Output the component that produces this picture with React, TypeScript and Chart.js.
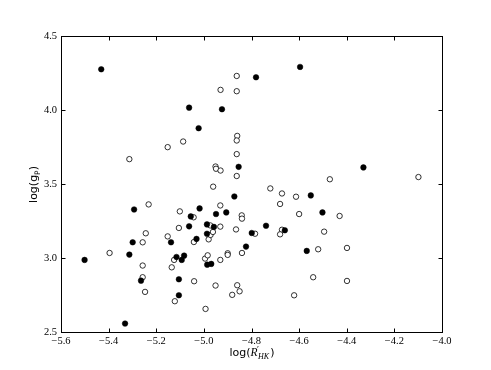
import React, { useEffect, useRef } from "react";
import { Chart, registerables } from "chart.js";

Chart.register(...registerables);

// Filled (black) points
const filledX = [
  -5.431, -5.062, -4.924, -5.022, -4.854, -4.781, -4.596, -4.33, -5.501, -5.331,
  -5.293, -5.299, -5.313, -5.264, -5.138, -5.115, -5.093, -5.083, -5.105, -5.105,
  -5.055, -5.062, -5.031, -5.018, -4.987, -4.987, -4.986, -4.969, -4.958, -4.949,
  -4.906, -4.872, -4.823, -4.799, -4.551, -4.502, -4.739, -4.66, -4.568,
];
const filledY = [
  4.275, 4.016, 4.005, 3.877, 3.616, 4.221, 4.291, 3.612, 2.987, 2.557,
  3.328, 3.106, 3.023, 2.847, 3.106, 3.007, 2.987, 3.016, 2.856, 2.748,
  3.281, 3.214, 3.129, 3.335, 3.227, 3.164, 2.955, 2.96, 3.21, 3.297,
  3.308, 3.416, 3.077, 3.169, 3.423, 3.308, 3.218, 3.187, 3.048,
];

// Open (hollow) points
const openX = [
  -4.862, -4.93, -4.862, -5.087, -5.152, -5.313, -4.86, -4.862, -4.862, -4.951,
  -4.949, -4.93, -4.862, -4.961, -4.471, -4.099, -4.721, -5.396, -5.232, -5.244,
  -5.257, -5.257, -5.257, -5.247, -5.152, -5.105, -5.101, -5.125, -5.135, -5.122,
  -5.043, -5.042, -5.041, -4.995, -4.984, -4.993, -4.98, -4.972, -4.962, -4.973,
  -4.931, -4.931, -4.931, -4.951, -4.9, -4.9, -4.881, -4.86, -4.85, -4.841,
  -4.84, -4.865, -4.84, -4.672, -4.613, -4.68, -4.6, -4.43, -4.785, -4.672,
  -4.68, -4.495, -4.52, -4.399, -4.541, -4.399, -4.621,
];
const openY = [
  4.23, 4.136, 4.127, 3.787, 3.749, 3.668, 3.825, 3.794, 3.702, 3.618,
  3.603, 3.591, 3.554, 3.482, 3.532, 3.547, 3.47, 3.034, 3.362, 3.167,
  3.106, 2.949, 2.87, 2.771, 3.146, 3.203, 3.315, 2.987, 2.937, 2.708,
  3.275, 3.108, 2.843, 2.996, 3.018, 2.656, 3.126, 3.156, 3.176, 3.22,
  3.355, 3.212, 2.987, 2.814, 3.032, 3.021, 2.751, 2.816, 2.775, 3.288,
  3.266, 3.193, 3.034, 3.436, 3.414, 3.365, 3.297, 3.284, 3.164, 3.191,
  3.16, 3.178, 3.059, 3.068, 2.87, 2.845, 2.748,
];

const xMin = -5.6;
const xMax = -4.0;
const xStep = 0.2;
const yMin = 2.5;
const yMax = 4.5;
const yStep = 0.5;

const fmt = (v: number) => v.toFixed(1).replace("-", "\u2212");

const SERIF = "'Liberation Serif', 'DejaVu Serif', serif";

const framePlugin = {
  id: "frameTicks",
  afterDraw(chart: any) {
    const ctx = chart.ctx as CanvasRenderingContext2D;
    const { left, right, top, bottom } = chart.chartArea;
    const L = Math.round(left) + 0.5;
    const R = Math.round(right) + 0.5;
    const T = Math.round(top) + 0.5;
    const B = Math.round(bottom) + 0.5;
    ctx.save();
    ctx.strokeStyle = "#000";
    ctx.lineWidth = 1;
    ctx.strokeRect(L, T, R - L, B - T);
    const tl = 4;
    ctx.beginPath();
    const xs = chart.scales.x;
    xs.ticks.forEach((t: any) => {
      const p = Math.round(xs.getPixelForValue(t.value)) + 0.5;
      ctx.moveTo(p, B);
      ctx.lineTo(p, B - tl);
      ctx.moveTo(p, T);
      ctx.lineTo(p, T + tl);
    });
    const ys = chart.scales.y;
    ys.ticks.forEach((t: any) => {
      const p = Math.round(ys.getPixelForValue(t.value)) + 0.5;
      ctx.moveTo(L, p);
      ctx.lineTo(L + tl, p);
      ctx.moveTo(R, p);
      ctx.lineTo(R - tl, p);
    });
    ctx.stroke();

    // Axis titles
    ctx.fillStyle = "#000";
    ctx.textBaseline = "alphabetic";
    const sans = "11px 'DejaVu Sans', sans-serif";
    const itSerif = "italic 11.5px " + SERIF;
    const subSerif = "italic 8px " + SERIF;
    const cx = (L + R) / 2;
    const base = 356;

    // X title: log(R'_HK)
    ctx.font = sans;
    const wLog = ctx.measureText("log(").width;
    const wClose = ctx.measureText(")").width;
    ctx.font = itSerif;
    const wR = ctx.measureText("R").width;
    ctx.font = subSerif;
    const wHK = ctx.measureText("HK").width;
    const total = wLog + wR + 0.5 + wHK + 1 + wClose;
    let x = cx - total / 2;
    ctx.font = sans;
    ctx.fillText("log(", x, base);
    x += wLog;
    ctx.font = itSerif;
    ctx.fillText("R", x, base);
    x += wR;
    ctx.font = "9px " + SERIF;
    ctx.fillText("\u2032", x - 0.5, base - 4.5);
    ctx.font = subSerif;
    ctx.fillText("HK", x + 0.5, base + 2.5);
    x += 0.5 + wHK + 1;
    ctx.font = sans;
    ctx.fillText(")", x, base);

    // Y title: log(g_P), rotated
    ctx.save();
    ctx.translate(37, (T + B) / 2);
    ctx.rotate(-Math.PI / 2);
    const yparts: Array<[string, string, number]> = [
      ["log(g", sans, 0],
      ["P", "7.5px 'DejaVu Sans', sans-serif", 2.5],
      [")", sans, 0],
    ];
    let yt = 0;
    const yw: number[] = [];
    yparts.forEach(([s, f]) => {
      ctx.font = f;
      const w = ctx.measureText(s).width;
      yw.push(w);
      yt += w;
    });
    let yx = -yt / 2;
    yparts.forEach(([s, f, dy], i) => {
      ctx.font = f;
      ctx.fillText(s, yx, dy);
      yx += yw[i];
    });
    ctx.restore();
    ctx.restore();
  },
};

export default function App() {
  const ref = useRef<HTMLCanvasElement>(null);
  useEffect(() => {
    document.body.style.margin = "0";
    const canvas = ref.current!;
    const chart = new Chart(canvas, {
      type: "scatter",
      data: {
        datasets: [
          {
            label: "filled",
            data: filledX.map((x, i) => ({ x, y: filledY[i] })),
            backgroundColor: "#000",
            borderColor: "#000",
            borderWidth: 0.5,
            pointRadius: 2.8,
            pointHoverRadius: 2.8,
          },
          {
            label: "open",
            data: openX.map((x, i) => ({ x, y: openY[i] })),
            backgroundColor: "#fff",
            borderColor: "#000",
            borderWidth: 0.8,
            pointRadius: 2.7,
            pointHoverRadius: 2.7,
          },
        ],
      },
      options: {
        animation: false,
        responsive: false,
        devicePixelRatio: 1,
        layout: { padding: { top: 36, right: 49, left: 0, bottom: 0 } },
        plugins: {
          legend: { display: false },
          tooltip: { enabled: false },
          title: { display: false },
        },
        scales: {
          x: {
            type: "linear",
            min: xMin,
            max: xMax,
            grid: { display: false, drawTicks: false },
            border: { display: false },
            ticks: {
              stepSize: xStep,
              padding: 3,
              color: "#000",
              font: { family: SERIF, size: 10.5 },
              maxRotation: 0,
              callback: (v: any) => fmt(Number(v)),
            },
            afterFit: (s: any) => {
              s.height = 38;
            },
          },
          y: {
            type: "linear",
            min: yMin,
            max: yMax,
            grid: { display: false, drawTicks: false },
            border: { display: false },
            ticks: {
              stepSize: yStep,
              padding: 4,
              color: "#000",
              font: { family: SERIF, size: 10.5 },
              callback: (v: any) => fmt(Number(v)),
            },
            afterFit: (s: any) => {
              s.width = 61;
            },
          },
        },
      },
      plugins: [framePlugin],
    });
    return () => chart.destroy();
  }, []);
  return (
    <div style={{ width: 491, height: 370 }}>
      <canvas ref={ref} width={491} height={370} style={{ display: "block" }} />
    </div>
  );
}
